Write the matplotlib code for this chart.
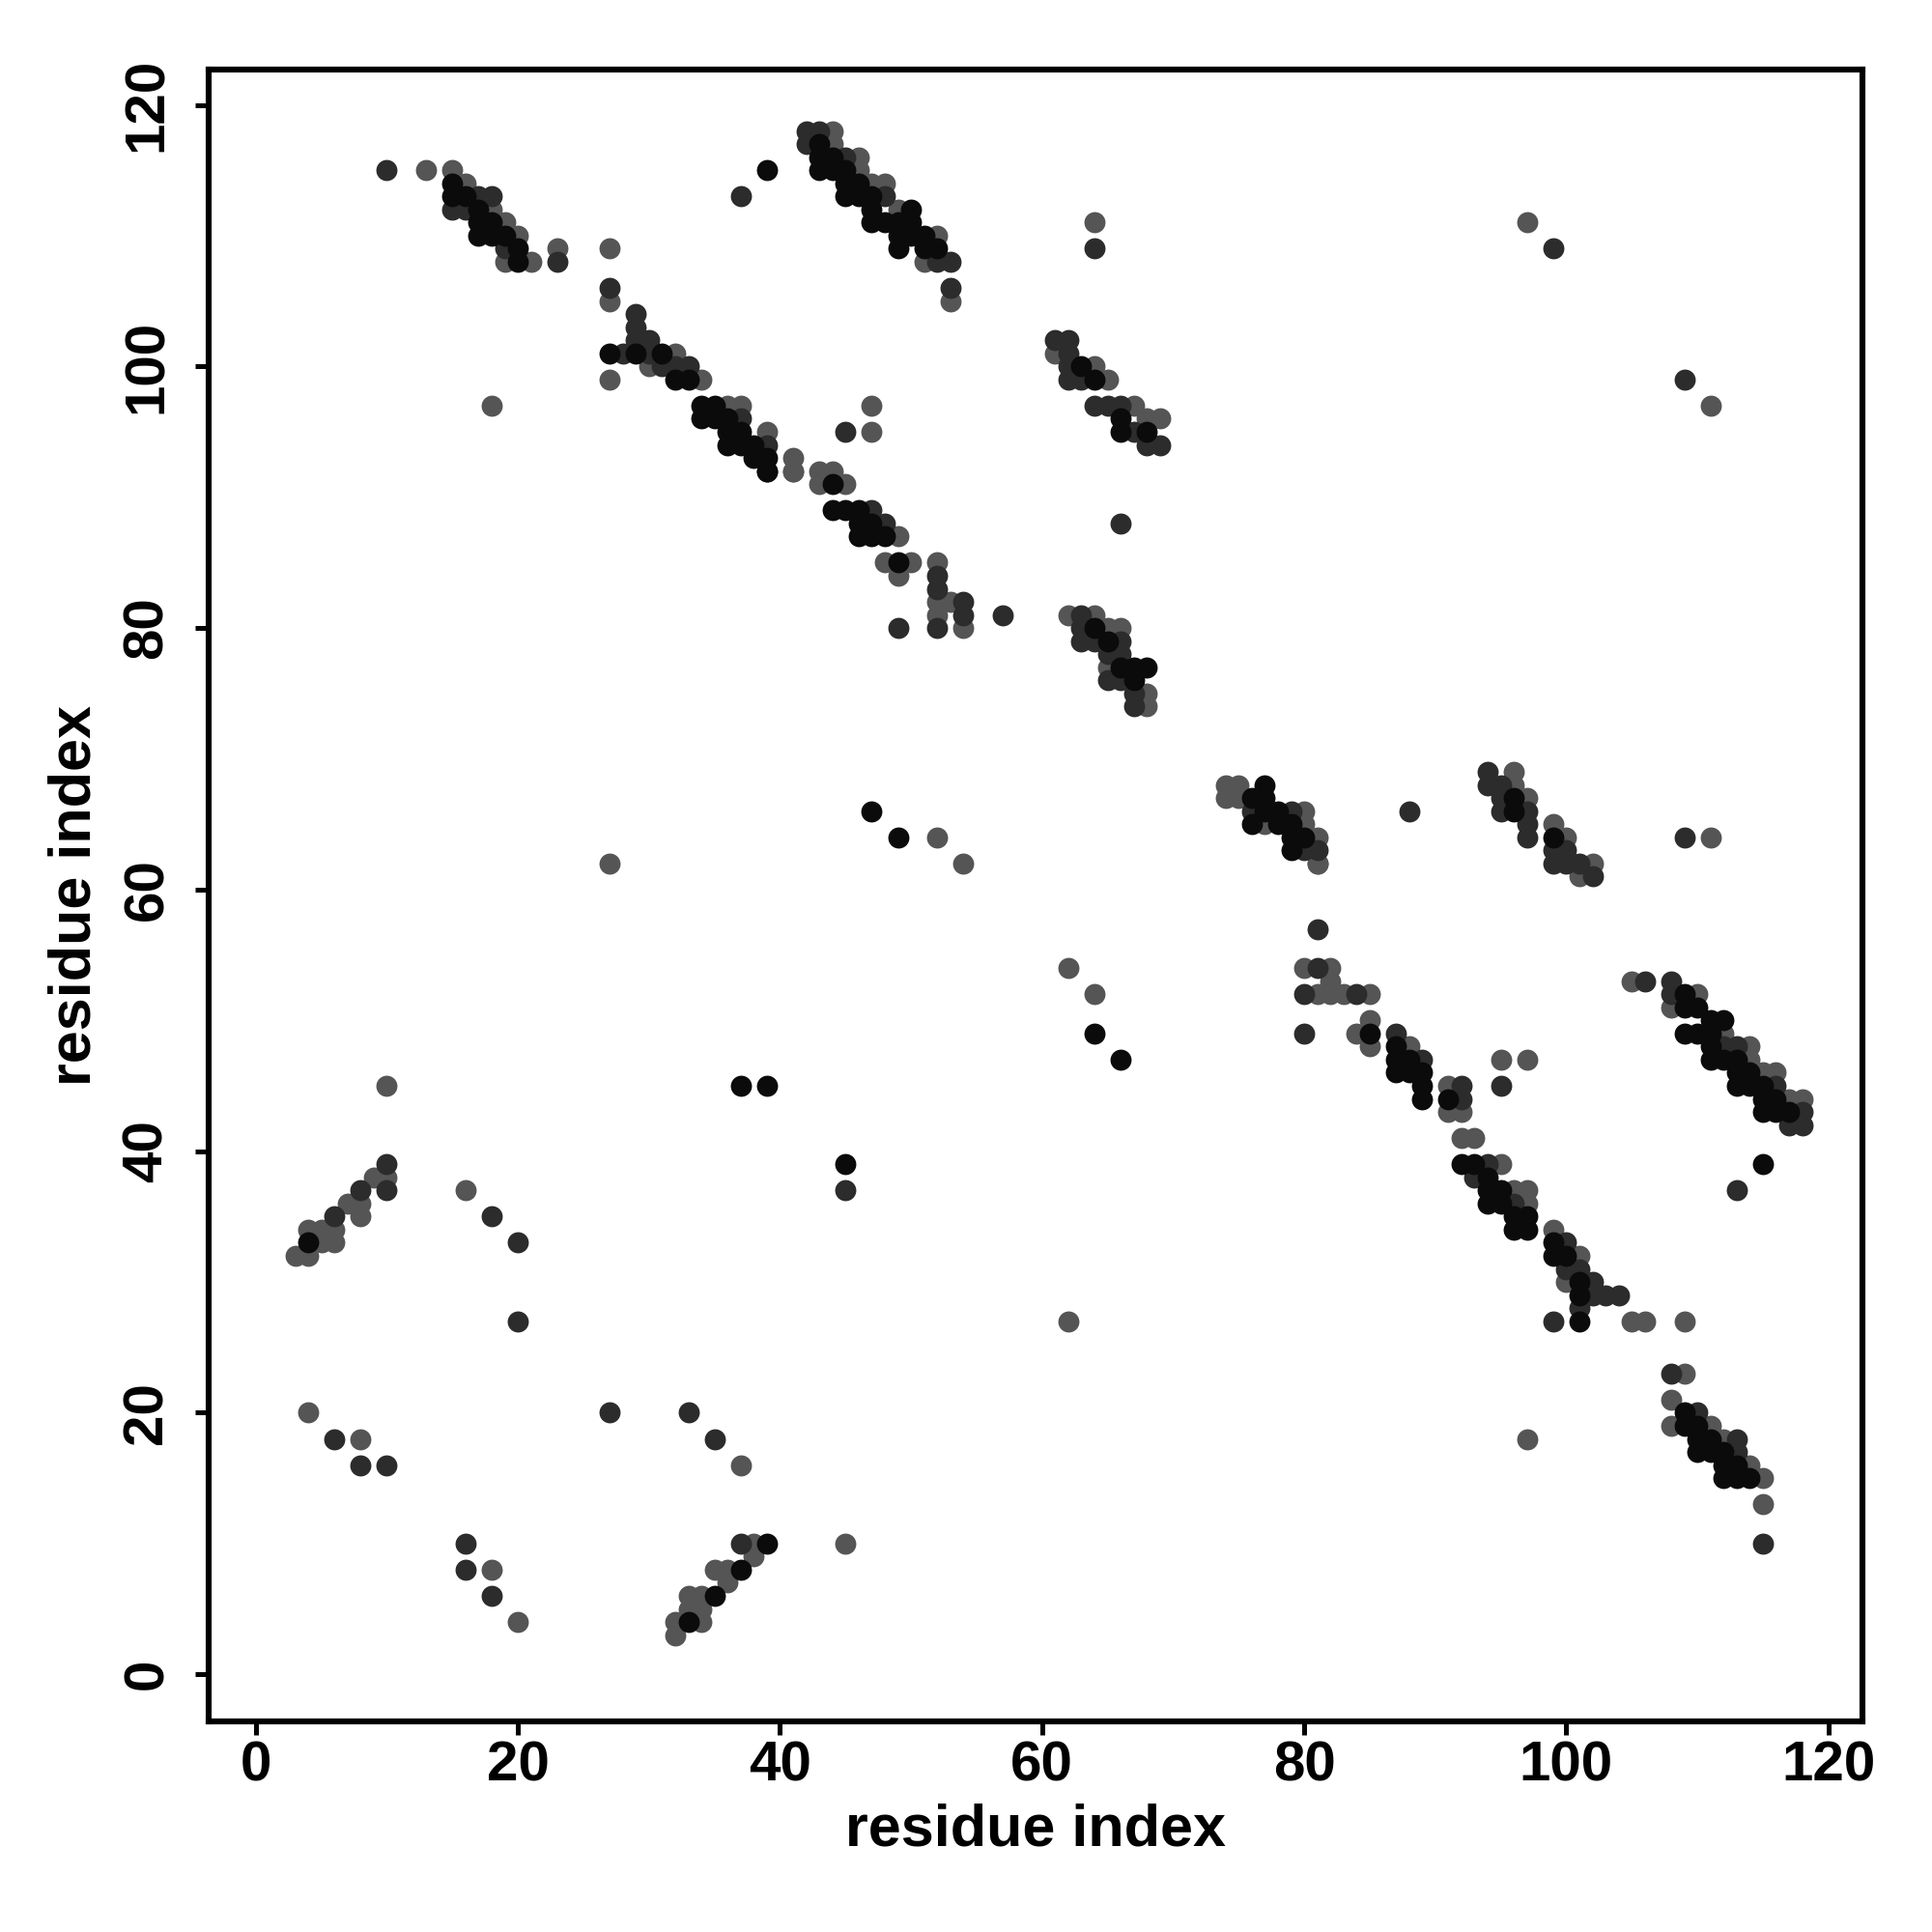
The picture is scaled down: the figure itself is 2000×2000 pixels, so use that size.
import matplotlib
matplotlib.use("Agg")
import matplotlib.pyplot as plt

plt.rcParams['font.family'] = ['Liberation Sans', 'DejaVu Sans']

# residue contacts, grouped by shade (near-black, dark grey, grey)
black_x = [4, 37, 39, 33, 35, 37, 39, 45,
           64, 66, 85, 87, 87, 87, 88, 88, 89, 89, 89, 91,
           92, 93, 94, 94, 95, 94, 95, 96, 97, 96, 97, 99, 99, 100, 101, 101,
           109, 109, 110, 111, 112, 109, 110, 111, 111, 111, 112, 113, 113, 114, 113, 114, 115,
           115, 116, 115, 116, 117, 115,
           101, 109, 109, 110, 110, 111, 110, 111, 112, 112, 113, 112, 113, 114,
           77, 76, 77, 77, 78, 76, 78, 79, 79, 80, 79, 96, 96, 99,
           64, 65, 66, 67, 68, 67,
           39, 44, 44, 45, 46, 46, 47, 46, 47, 48, 49, 47, 49,
           39, 43, 43, 44, 43, 44, 45, 45, 46, 45, 46, 47, 47, 50, 47, 48, 49, 50, 49, 50, 51,
           49, 51, 52,
           27, 29, 31, 32, 33, 34, 35, 34, 35, 36, 36, 37, 36, 37, 38, 38, 39, 39,
           15, 15, 16, 17, 17, 18, 17, 18, 19, 20, 20,
           63, 64, 66, 66, 68]
black_y = [33, 8, 10, 4, 6, 45, 45, 39,
           49, 47, 49, 48, 47, 46, 47, 46, 46, 45, 44, 44,
           39, 39, 38, 37, 37, 36, 36, 35, 35, 34, 34, 33, 32, 32, 30, 29,
           52, 51, 51, 50, 50, 49, 49, 49, 48, 47, 47, 47, 46, 46, 45, 45, 45,
           44, 44, 43, 43, 43, 39,
           27, 20, 19, 19, 18, 18, 17, 17, 17, 16, 16, 15, 15, 15,
           68, 67, 67, 66, 66, 65, 65, 65, 64, 64, 63, 67, 66, 64,
           80, 79, 77, 77, 77, 76,
           92, 91, 89, 89, 89, 88, 88, 87, 87, 87, 85, 66, 64,
           115, 117, 116, 116, 115, 115, 115, 114, 114, 113, 113, 113, 112, 112, 111, 111, 111, 111, 110, 110, 110,
           109, 109, 109,
           101, 101, 101, 99, 99, 97, 97, 96, 96, 96, 95, 95, 94, 94, 94, 93, 93, 92,
           114, 113, 113, 112, 111, 111, 110, 110, 110, 109, 108,
           100, 99, 96, 95, 95]

dark_x = [6, 8, 10, 10, 18, 20, 20, 27, 6, 8, 10, 16, 16, 18,
          33, 35, 37, 45,
          81, 81, 80, 84, 80, 87, 89, 92, 92,
          94, 93, 96, 100, 100, 101, 102, 102, 103, 104, 95,
          106, 108, 108, 112, 113, 116, 118, 117, 118, 113,
          99, 101, 108, 110, 113, 113, 115,
          76, 79, 80, 81, 88, 94, 94, 95, 95, 97, 95, 97, 97, 99, 100, 99, 100, 101, 102, 109,
          66, 63, 63, 64, 63, 66, 65, 66, 65, 66, 67, 67,
          47, 48, 52, 52, 52, 54, 54, 49, 57,
          37, 42, 43, 42, 45, 48, 52, 53, 53,
          29, 29, 29, 30, 28, 30, 31, 32, 33, 37, 39, 45,
          10, 17, 18, 15, 16, 19, 23, 27,
          64, 61, 62, 62, 62, 62, 63, 64, 65, 66, 67, 68, 69,
          99, 109]
dark_y = [35, 37, 37, 39, 35, 33, 27, 20, 18, 16, 16, 10, 8, 6,
          20, 18, 10, 37,
          57, 54, 52, 52, 49, 49, 47, 45, 44,
          39, 38, 36, 33, 31, 31, 30, 29, 29, 29, 45,
          53, 53, 52, 48, 48, 45, 43, 42, 42, 37,
          27, 28, 23, 20, 18, 17, 10,
          66, 66, 63, 63, 66, 69, 68, 68, 67, 66, 66, 65, 64, 63, 63, 62, 62, 62, 61, 64,
          88, 81, 80, 79, 79, 79, 78, 78, 76, 76, 75, 74,
          89, 88, 84, 83, 80, 82, 81, 80, 81,
          113, 118, 118, 117, 116, 113, 108, 108, 106,
          104, 103, 102, 102, 101, 101, 100, 100, 100, 96, 94, 95,
          115, 113, 113, 112, 112, 109, 108, 106,
          109, 102, 102, 101, 100, 99, 99, 97, 97, 97, 95, 94, 94,
          109, 99]

gray_x = [3, 4, 5, 6, 4, 5, 6, 7, 8, 8, 9, 10, 10, 16, 4, 8, 18, 20, 27, 62,
          37, 45, 38, 38, 35, 36, 36, 33, 34, 33, 34, 32, 34, 32,
          81, 62, 64, 80, 82, 82, 81, 82, 83, 85, 85, 85, 84, 88, 91, 91,
          92, 92, 93, 95, 96, 97, 97, 99, 101, 100, 95, 97,
          105, 110, 108, 112, 114, 114, 115, 116, 117, 118,
          105, 106, 109, 109, 108, 108, 111, 112, 114, 115, 115, 97,
          74, 75, 74, 75, 80, 77, 80, 81, 81,
          96, 96, 97, 99, 100, 102, 101, 111,
          62, 64, 65, 66, 65, 68, 68,
          41, 43, 45, 49, 48, 50, 49, 52, 52, 52, 53, 54, 52, 54,
          44, 44, 46, 46, 47, 48, 49, 52, 51, 53,
          32, 30, 34, 36, 37, 39, 41, 41, 43, 44, 47, 47,
          13, 15, 16, 18, 19, 20, 19, 21, 23, 27, 27, 27, 18,
          64, 61, 64, 65, 67, 68, 69,
          97, 111]
gray_y = [32, 32, 33, 33, 34, 34, 34, 36, 36, 35, 38, 38, 45, 37, 20, 18, 8, 4, 62, 27,
          16, 10, 10, 9, 8, 8, 7, 6, 6, 5, 5, 4, 4, 3,
          62, 54, 52, 54, 54, 53, 52, 52, 52, 52, 50, 48, 49, 48, 45, 43,
          43, 41, 41, 39, 37, 37, 36, 34, 32, 30, 47, 47,
          53, 52, 51, 49, 48, 47, 46, 46, 44, 44,
          27, 27, 27, 23, 21, 19, 19, 18, 16, 15, 13, 18,
          68, 68, 67, 67, 66, 65, 65, 64, 62,
          69, 68, 67, 65, 64, 62, 61, 64,
          81, 81, 80, 80, 77, 75, 74,
          92, 91, 91, 87, 85, 85, 84, 85, 82, 81, 82, 80, 64, 62,
          118, 117, 116, 115, 114, 114, 112, 110, 108, 105,
          101, 100, 99, 97, 97, 95, 93, 92, 92, 92, 97, 95,
          115, 115, 114, 112, 111, 110, 108, 108, 109, 109, 105, 99, 97,
          111, 101, 100, 99, 97, 96, 96,
          111, 97]

x_ticks = [0, 20, 40, 60, 80, 100, 120]
y_ticks = [0, 20, 40, 60, 80, 100, 120]
axis_label = "residue index"

fig = plt.figure(figsize=(10, 10), dpi=200)
ax = fig.add_axes([0.108, 0.109, 0.856, 0.855])

ms = 62
ax.scatter(gray_x, gray_y, s=ms, color='#555555', linewidths=0, zorder=2)
ax.scatter(dark_x, dark_y, s=ms, color='#2c2c2c', linewidths=0, zorder=3)
ax.scatter(black_x, black_y, s=ms, color='#0b0b0b', linewidths=0, zorder=4)

ax.set_xlim(-3.6, 122.6)
ax.set_ylim(-3.6, 122.7)
ax.set_xticks(x_ticks)
ax.set_yticks(y_ticks)
ax.set_xticklabels([str(t) for t in x_ticks], fontsize=21, fontweight='bold')
ax.set_yticklabels([str(t) for t in y_ticks], fontsize=21, fontweight='bold',
                   rotation=90, va='center')
ax.tick_params(axis='both', direction='out', length=5, width=1.8, color='black')
ax.tick_params(axis='x', pad=2)
ax.tick_params(axis='y', pad=8)
for sp in ax.spines.values():
    sp.set_linewidth(2.2)
    sp.set_color('black')
ax.set_xlabel(axis_label, fontsize=22, fontweight='bold', labelpad=4)
ax.set_ylabel(axis_label, fontsize=22, fontweight='bold', labelpad=7)

fig.savefig("out.png", dpi=200, facecolor='white')
